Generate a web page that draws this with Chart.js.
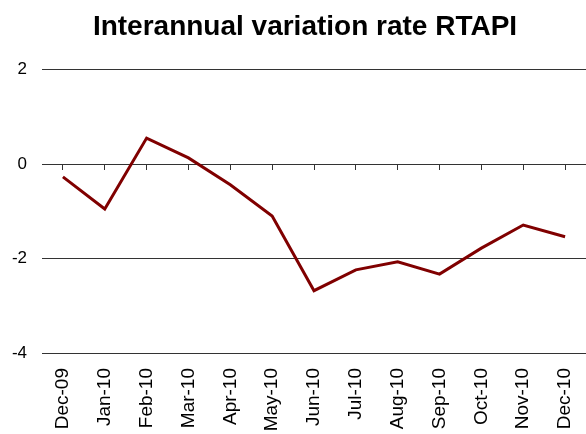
<!DOCTYPE html>
<html>
<head>
<meta charset="utf-8">
<script src="https://cdn.jsdelivr.net/npm/chart.js@4"></script>
<style>
	html, body { margin: 0; padding: 0; background: #fff; }
	#wrap { width: 586px; height: 434px; }
</style>
</head>
<body>
<div id="wrap"><canvas id="chart"></canvas></div>
<script>
// ── Datos ────────────────────────────────────────────────────────────
const months = ["Dec-09", "Jan-10", "Feb-10", "Mar-10", "Apr-10", "May-10", "Jun-10",
	"Jul-10", "Aug-10", "Sep-10", "Oct-10", "Nov-10", "Dec-10"];
const rateRTAPI = [-0.27, -0.95, 0.55, 0.13, -0.44, -1.1, -2.68, -2.24, -2.07, -2.33, -1.78, -1.29, -1.54];
const yTicks = [2, 0, -2, -4];

const FONT = "'Liberation Sans', Arial, sans-serif";

// El título del original está algo desplazado a la derecha
const shiftTitle = {
	id: "shiftTitle",
	afterLayout(chart) {
		const t = chart.titleBlock;
		if (t) { t.left += 24; }
	},
};

new Chart(document.getElementById("chart"), {
	type: "line",
	data: {
		labels: months,
		datasets: [
			{
				label:       "RTAPI",
				data:        rateRTAPI,
				borderColor: "#800000",
				borderWidth: 3,
				pointRadius: 0,
				tension:     0,
				xAxisID:     "x",
			},
		],
	},
	plugins: [shiftTitle],
	options: {
		responsive:          true,
		maintainAspectRatio: false,
		animation:           false,
		layout: { padding: 0 },
		plugins: {
			legend:  { display: false },
			tooltip: { enabled: false },
			title: {
				display: true,
				text:    "Interannual variation rate RTAPI",
				color:   "#000",
				font:    { family: FONT, size: 28, weight: "bold" },
				padding: { top: 10, bottom: 26 },
			},
		},
		scales: {
			x: {
				type:   "category",
				offset: true,
				grid:   { display: false, drawTicks: false },
				border: { display: false },
				afterFit: (scale) => {
					scale.height = 81;
					scale.paddingLeft = 0;
					scale.paddingRight = 0;
				},
				ticks: {
					color:       "#000",
					font:        { family: FONT, size: 19 },
					minRotation: 90,
					maxRotation: 90,
					padding:     15,
					autoSkip:    false,
				},
			},
			// eje de marcas sobre la línea del cero
			x0: {
				type:     "category",
				labels:   months,
				offset:   true,
				position: { y: 0 },
				grid: {
					drawOnChartArea: false,
					drawTicks:       true,
					tickLength:      5,
					color:           "#333",
				},
				border: { display: true, color: "#333", width: 1 },
				ticks:  { callback: () => "", padding: 0 },
			},
			y: {
				min: -4,
				max: 2,
				afterFit: (scale) => { scale.width = 42; },
				afterBuildTicks: (scale) => { scale.ticks = yTicks.map((v) => ({ value: v })); },
				grid:   { color: "#333", lineWidth: 1, drawTicks: false },
				border: { display: false },
				ticks: {
					color:   "#000",
					font:    { family: FONT, size: 17 },
					padding: 15,
				},
			},
		},
	},
});
</script>
</body>
</html>
